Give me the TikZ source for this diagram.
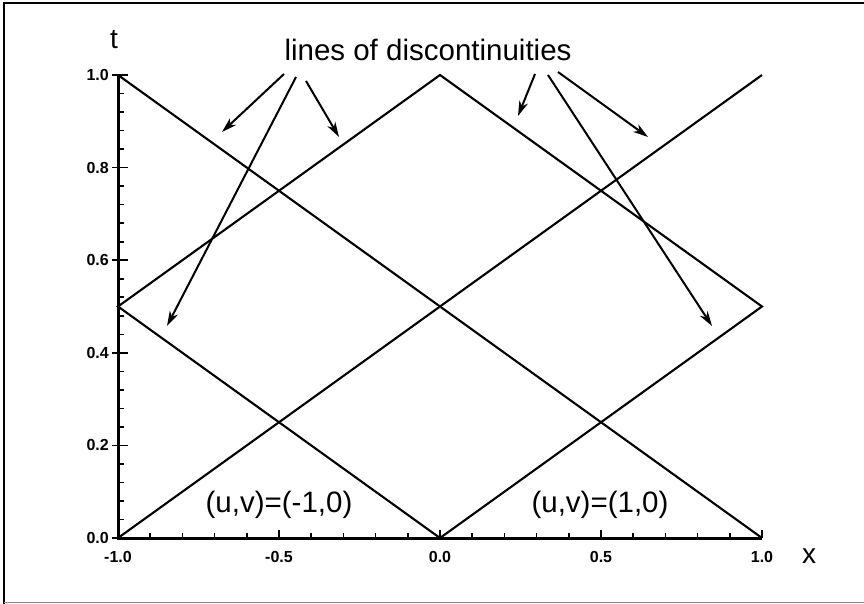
\documentclass[tikz,border=0pt]{standalone}
\usepackage{fontspec}
\setmainfont{Liberation Sans}
\usetikzlibrary{arrows.meta}
\begin{document}
\begin{tikzpicture}[x=1pt,y=-1pt,
  plotline/.style={line width=2.1pt},
  axisline/.style={line width=3pt},
  tickmark/.style={line width=1.6pt},
  pointer/.style={line width=2pt,-{Stealth[length=15pt,width=9pt,inset=4.5pt]}},
  ticklabel/.style={font=\fontsize{16}{16}\selectfont\bfseries,inner sep=0pt},
  bigtext/.style={font=\fontsize{29.5}{29.5}\selectfont,inner sep=0pt},
  axlabel/.style={font=\fontsize{28}{28}\selectfont,inner sep=0pt},
  framestyle/.style={line width=1.6pt}]
\useasboundingbox (0,0) rectangle (864,604);
% frame
\draw[framestyle] (4,604) -- (4,3) -- (864,3);
\draw[line width=1pt,black!45] (4,602.5) -- (864,602.5);
% key points (x from -1..1 -> 118..762, t from 0..1 -> 538..75)
\coordinate (A) at (118,75);   % (-1,1)
\coordinate (B) at (762,538);  % (1,0)
\coordinate (C) at (118,538);  % (-1,0)
\coordinate (D) at (762,75);   % (1,1)
\coordinate (L) at (118,306.5);% (-1,0.5)
\coordinate (T) at (440,75);   % (0,1)
\coordinate (R) at (762,306.5);% (1,0.5)
\coordinate (O) at (440,538);  % (0,0)
% ticks on y axis
\foreach \k in {0,...,25} {
  \pgfmathsetmacro\yy{538-463*\k*0.04}
  \draw[tickmark] (118,\yy) -- (124,\yy);
}
\foreach \v/\lab in {0/0.0,0.2/0.2,0.4/0.4,0.6/0.6,0.8/0.8,1/1.0} {
  \pgfmathsetmacro\yy{538-463*\v}
  \draw[tickmark] (112,\yy) -- (128,\yy);
  \node[ticklabel,anchor=east] at (109,\yy) {\lab};
}
% ticks on x axis
\foreach \k in {0,...,20} {
  \pgfmathsetmacro\xx{118+644*\k*0.05}
  \draw[tickmark] (\xx,538) -- (\xx,533);
}
\foreach \v/\lab in {-1/-1.0,-0.5/-0.5,0/0.0,0.5/0.5,1/1.0} {
  \pgfmathsetmacro\xx{440+322*\v}
  \draw[tickmark] (\xx,538) -- (\xx,530);
  \node[ticklabel] at (\xx,557) {\lab};
}
% axes
\draw[axisline] (A) -- (C) -- (B);
\node[axlabel] (tl) at (114,40) {t};
\node[axlabel] (xl) at (809,556) {x};
% lines of discontinuity
\draw[plotline] (A) -- (B);
\draw[plotline] (C) -- (D);
\draw[plotline,line join=miter] (L) -- (T) -- (R) -- (O) -- cycle;
% labels
\node[bigtext,anchor=base] (lbl) at (428,61) {lines of discontinuities};
\node[bigtext,anchor=base] (ul) at (279,512) {(u,v)=(-1,0)};
\node[bigtext,anchor=base] (ur) at (600,512) {(u,v)=(1,0)};
% arrows
\coordinate (s1) at (284,74);  \coordinate (e1) at (222,132);
\coordinate (s2) at (296,77);  \coordinate (e2) at (167,326);
\coordinate (s3) at (306,81);  \coordinate (e3) at (339,137);
\coordinate (s4) at (535,74);  \coordinate (e4) at (518,116);
\coordinate (s5) at (548,75);  \coordinate (e5) at (712,326);
\coordinate (s6) at (558,72);  \coordinate (e6) at (648,137);
\foreach \i in {1,...,6} { \draw[pointer] (s\i) -- (e\i); }
\end{tikzpicture}
\end{document}
